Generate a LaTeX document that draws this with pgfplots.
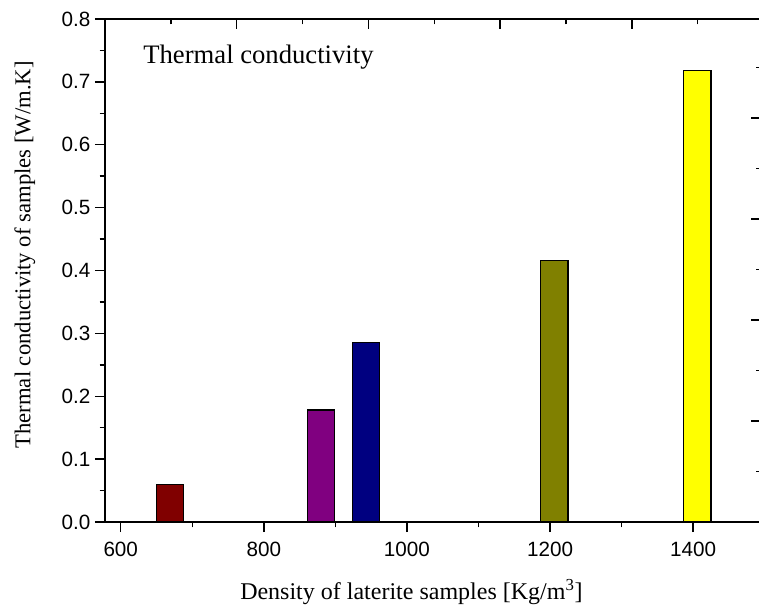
\documentclass[border=0pt]{standalone}
\usepackage{fontspec}
\setmainfont{Liberation Serif}
\newfontfamily\arialfont{Liberation Sans}
\usepackage{pgfplots}
\pgfplotsset{compat=1.18}
\definecolor{barmaroon}{RGB}{128,0,0}
\definecolor{barpurple}{RGB}{128,0,128}
\definecolor{barnavy}{RGB}{0,0,128}
\definecolor{barolive}{RGB}{128,128,0}
\definecolor{baryellow}{RGB}{255,255,0}
\begin{document}
\begin{tikzpicture}
\pgfplotsset{
  frame/.style={
    width=492.1pt, scale only axis,
    xmin=578, xmax=1495,
    axis line style={line width=1.1pt},
    every tick/.style={black, line width=1.1pt},
    major tick length=7.5pt, minor tick length=4pt,
  },
  bars/.style={ybar, bar width=38, bar shift=0pt, draw=black, line width=0.9pt},
}
% right side ticks (own scale)
\begin{axis}[frame, height=377.25pt, ymin=0, ymax=0.8,
  tick align=inside,
  ytick pos=right,
  xtick=\empty,
  ytick={0.1606,0.3212,0.4818,0.6424},
  minor ytick={0.0803,0.2409,0.4015,0.5621,0.7227},
  yticklabels={},
]
\end{axis}
% top side ticks (own scale), drawn as bottom ticks of a thin strip on top
\begin{axis}[frame, height=20pt, ymin=0, ymax=1,
  at={(0pt,377.25pt)},
  axis x line*=bottom, axis y line=none,
  tick align=outside,
  xtick={762.05,946.15,1130.25,1314.35},
  minor xtick={670,854.1,1038.2,1222.3,1406.4},
  xticklabels={},
]
\end{axis}
\begin{axis}[frame, height=377.25pt, ymin=0, ymax=0.8,
  axis x line*=bottom, axis y line*=left,
  tick align=outside,
  xtick={600,800,1000,1200,1400},
  minor xtick={700,900,1100,1300},
  ytick={0,0.1,...,0.8},
  minor ytick={0.05,0.15,...,0.75},
  /pgf/number format/assume math mode=true,
  /pgf/number format/1000 sep={},
  tick label style={font=\arialfont\fontsize{15.5}{17}\selectfont},
  x tick label style={yshift=-4pt},
  y tick label style={/pgf/number format/.cd, fixed, fixed zerofill, precision=1},
  xlabel={Density of laterite samples [Kg/m\textsuperscript{3}]},
  ylabel={Thermal conductivity of samples [W/m.K]},
  xlabel style={font=\fontsize{18}{20}\selectfont, at={(axis description cs:0.467,-0.139)}, anchor=center},
  ylabel style={font=\fontsize{17}{19}\selectfont, at={(axis description cs:-0.122,0.531)}, anchor=center},
]
\addplot[bars, fill=barmaroon] coordinates {(669,0.060)};
\addplot[bars, fill=barpurple] coordinates {(880,0.178)};
\addplot[bars, fill=barnavy] coordinates {(943,0.285)};
\addplot[bars, fill=barolive] coordinates {(1206,0.416)};
\addplot[bars, fill=baryellow] coordinates {(1406,0.718)};
\node[anchor=base west, inner sep=0pt, font=\fontsize{20}{22}\selectfont] at (rel axis cs:0.058,0.9125) {Thermal conductivity};
\end{axis}
\pgfresetboundingbox
\path[use as bounding box] (-78.75pt,-63.75pt) rectangle (490.5pt,391.5pt);
\end{tikzpicture}
\end{document}
